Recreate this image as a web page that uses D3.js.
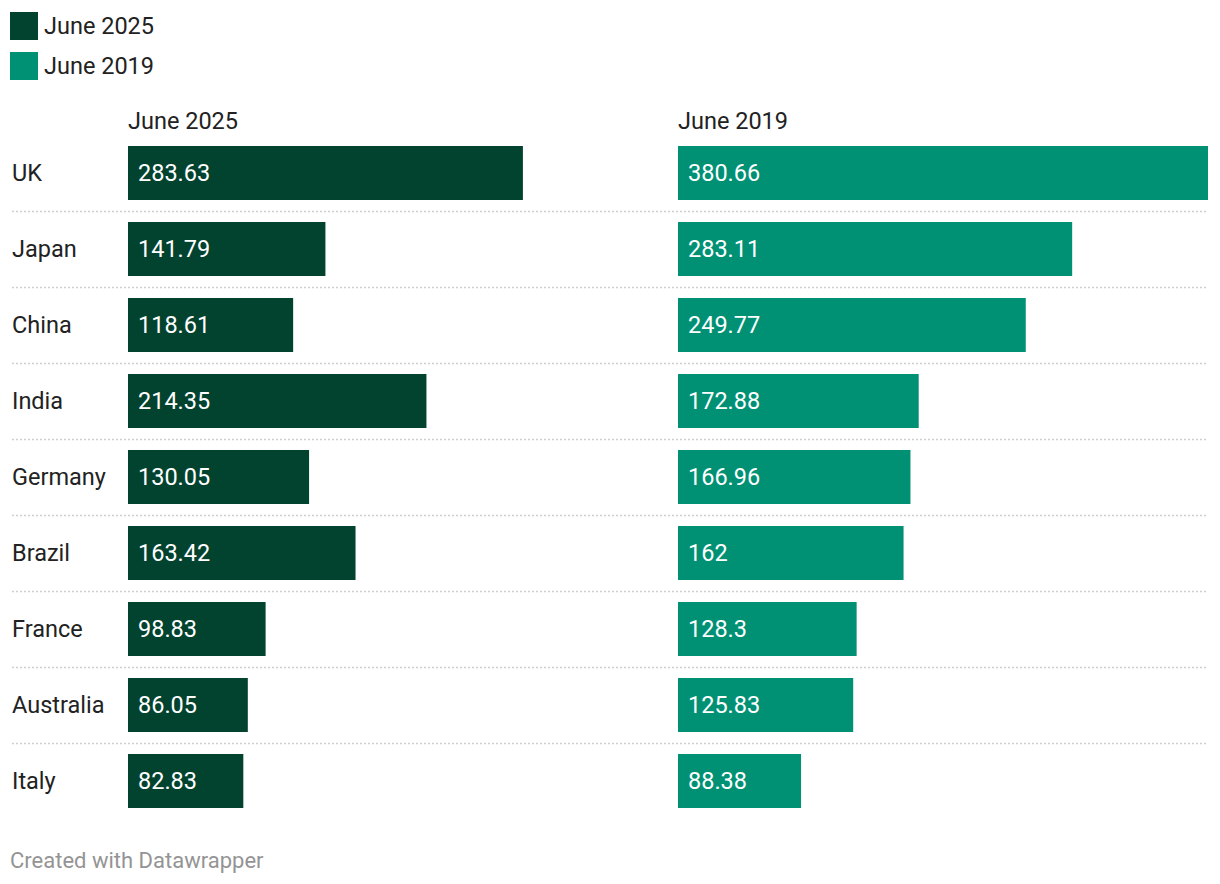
<!DOCTYPE html>
<html>
<head>
<meta charset="utf-8">
<script src="https://cdn.jsdelivr.net/npm/d3@7"></script>
<style>
  body { margin: 0; background: #fff; font-family: Roboto, "Noto Sans", sans-serif; }
  text { font-family: Roboto, "Noto Sans", sans-serif; }
</style>
</head>
<body>
<div id="container"></div>
<script>
/**
 * DATA
 * */
const countries = ["UK", "Japan", "China", "India", "Germany", "Brazil", "France", "Australia", "Italy"];
const june2025 = [283.63, 141.79, 118.61, 214.35, 130.05, 163.42, 98.83, 86.05, 82.83];
const june2019 = [380.66, 283.11, 249.77, 172.88, 166.96, 162, 128.3, 125.83, 88.38];
const seriesNames = ["June 2025", "June 2019"];
const seriesColors = ["#02432f", "#009174"];

/**
 * CONSTANTS
 * */
const width = 1220,
    height = 884,
    panelWidth = 530,
    panelX = [128, 678],
    rowTop = 146,
    rowStep = 76,
    barHeight = 54,
    fontSize = "23.5px";

const svg = d3.select("#container")
    .append("svg")
    .attr("width", width)
    .attr("height", height);

// Legend
const legend = svg.append("g").attr("class", "legend");
seriesNames.forEach((name, i) => {
    legend.append("rect")
        .attr("x", 10)
        .attr("y", 12 + i * 40)
        .attr("width", 28)
        .attr("height", 28)
        .attr("fill", seriesColors[i]);
    legend.append("text")
        .attr("x", 44)
        .attr("y", 26 + i * 40)
        .attr("dy", "0.35em")
        .style("font-size", fontSize)
        .attr("fill", "#222")
        .text(name);
});

// Scales
const y = d3.scaleBand()
    .domain(countries)
    .range([rowTop - (rowStep - barHeight) / 2, rowTop - (rowStep - barHeight) / 2 + rowStep * countries.length])
    .paddingInner((rowStep - barHeight) / rowStep)
    .paddingOuter((rowStep - barHeight) / rowStep / 2);

const x = d3.scaleLinear()
    .domain([0, d3.max(june2025.concat(june2019))])
    .range([0, panelWidth]);

// Separators (dotted)
svg.append("g")
    .selectAll("line")
    .data(countries.slice(1))
    .join("line")
    .attr("x1", 12)
    .attr("x2", 1208)
    .attr("y1", d => Math.round(y(d) - (rowStep - barHeight) / 2) + 0.5)
    .attr("y2", d => Math.round(y(d) - (rowStep - barHeight) / 2) + 0.5)
    .attr("stroke", "#cfcfcf")
    .attr("stroke-width", 1.5)
    .attr("stroke-dasharray", "2,2");

// Country labels
svg.append("g")
    .selectAll("text")
    .data(countries)
    .join("text")
    .attr("x", 12)
    .attr("y", d => y(d) + y.bandwidth() / 2)
    .attr("dy", "0.33em")
    .style("font-size", fontSize)
    .attr("fill", "#222")
    .text(d => d);

// Panels
[june2025, june2019].forEach((values, i) => {
    const g = svg.append("g")
        .attr("class", "panel")
        .attr("transform", `translate(${panelX[i]},0)`);

    g.append("text")
        .attr("x", 0)
        .attr("y", 121)
        .attr("dy", "0.35em")
        .style("font-size", fontSize)
        .attr("fill", "#222")
        .text(seriesNames[i]);

    g.selectAll("rect")
        .data(values)
        .join("rect")
        .attr("x", 0)
        .attr("y", (d, j) => y(countries[j]))
        .attr("width", d => x(d))
        .attr("height", y.bandwidth())
        .attr("fill", seriesColors[i]);

    g.selectAll("text.val")
        .data(values)
        .join("text")
        .attr("class", "val")
        .attr("x", 10)
        .attr("y", (d, j) => y(countries[j]) + y.bandwidth() / 2)
        .attr("dy", "0.33em")
        .style("font-size", fontSize)
        .attr("fill", "#fff")
        .text(d => d);
});

// Footer
svg.append("text")
    .attr("x", 10)
    .attr("y", 860)
    .attr("dy", "0.35em")
    .style("font-size", "22px")
    .attr("fill", "#949494")
    .text("Created with Datawrapper");
</script>
</body>
</html>
